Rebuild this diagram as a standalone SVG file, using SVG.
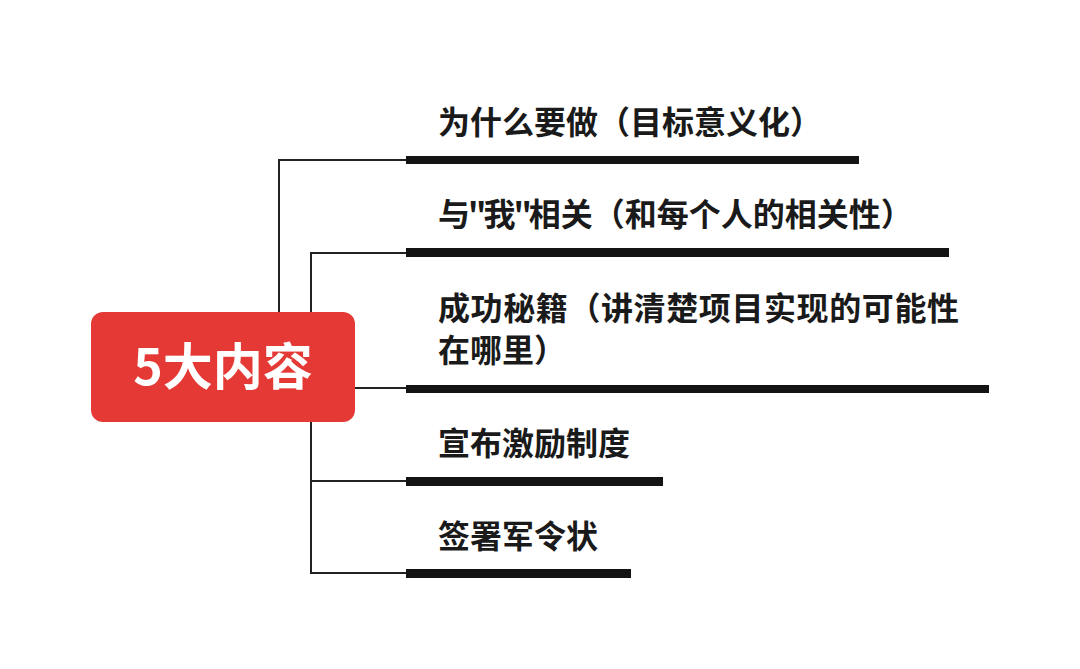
<svg xmlns="http://www.w3.org/2000/svg" width="1080" height="669" viewBox="0 0 1080 669">
<style>
.conn{fill:none;stroke:#222;stroke-width:2}
.bar{fill:#141414}
.lbl{font-family:"Noto Sans CJK SC","Noto Sans",sans-serif;font-size:32px;font-weight:700;fill:#1a1a1a}
.q{letter-spacing:-3px}
.root{font-family:"Noto Sans CJK SC","Noto Sans",sans-serif;font-size:50px;font-weight:700;fill:#ffffff}
</style>
<rect width="1080" height="669" fill="#ffffff"/>
<g id="connectors">
<path class="conn" d="M279 312 V160 H406"/>
<path class="conn" d="M311 312 V253 H406"/>
<path class="conn" d="M355 388 H406"/>
<path class="conn" d="M311 422 V573 H406"/>
<path class="conn" d="M311 481 H406"/>
</g>
<g id="root">
<rect x="91" y="312" width="264" height="110" rx="12" fill="#e53935"/>
<text class="root" x="223" y="385" text-anchor="middle">5大内容</text>
</g>
<g id="n1">
<rect class="bar" x="406" y="156" width="453" height="8"/>
<text class="lbl" x="438" y="134">为什么要做（目标意义化）</text>
</g>
<g id="n2">
<rect class="bar" x="406" y="248" width="543" height="9"/>
<text class="lbl" x="438" y="226">与<tspan class="q" dx="-2">"</tspan>我<tspan class="q" dx="-2">"</tspan>相关（和每个人的相关性）</text>
</g>
<g id="n3">
<rect class="bar" x="406" y="385" width="583" height="8"/>
<text class="lbl" x="438" y="320" letter-spacing="0.6">成功秘籍（讲清楚项目实现的可能性</text>
<text class="lbl" x="438" y="362">在哪里）</text>
</g>
<g id="n4">
<rect class="bar" x="406" y="477" width="257" height="9"/>
<text class="lbl" x="438" y="455">宣布激励制度</text>
</g>
<g id="n5">
<rect class="bar" x="406" y="569" width="225" height="9"/>
<text class="lbl" x="438" y="548">签署军令状</text>
</g>
</svg>
